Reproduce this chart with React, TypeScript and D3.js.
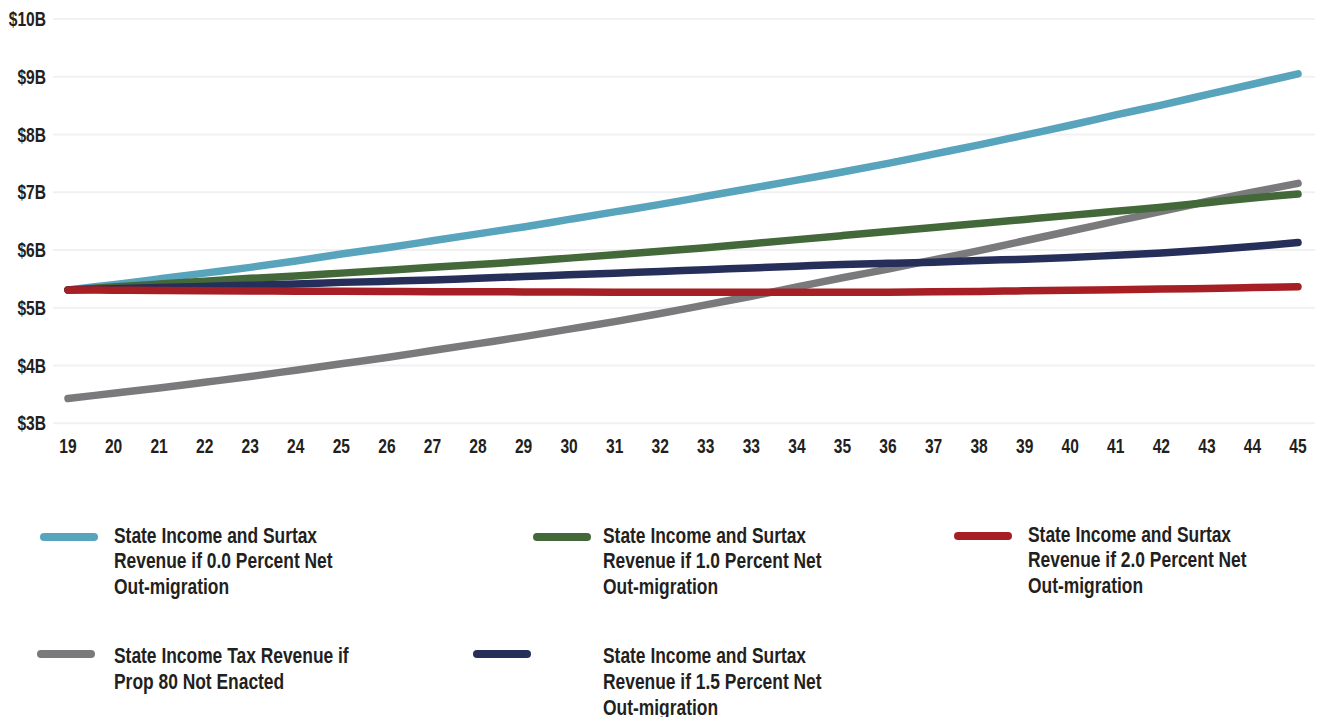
import React from "react";
import * as d3 from "d3";

const xLabels = ["19","20","21","22","23","24","25","26","27","28","29","30","31","32","33","33","34","35","36","37","38","39","40","41","42","43","44","45"];
const yTicks = [3, 4, 5, 6, 7, 8, 9, 10];

const blue0 = [5.31,5.40,5.50,5.60,5.70,5.81,5.93,6.04,6.16,6.28,6.40,6.53,6.66,6.79,6.93,7.07,7.21,7.35,7.50,7.66,7.82,7.99,8.16,8.34,8.51,8.69,8.87,9.05];
const green10 = [5.31,5.36,5.41,5.46,5.51,5.55,5.60,5.65,5.70,5.75,5.80,5.86,5.92,5.98,6.04,6.11,6.18,6.25,6.32,6.39,6.46,6.53,6.60,6.67,6.74,6.82,6.90,6.97];
const red20 = [5.31,5.305,5.300,5.296,5.292,5.288,5.285,5.282,5.279,5.277,5.275,5.273,5.271,5.270,5.269,5.268,5.268,5.268,5.270,5.276,5.284,5.293,5.303,5.313,5.324,5.336,5.350,5.365];
const gray80 = [3.43,3.52,3.61,3.71,3.81,3.92,4.03,4.14,4.26,4.38,4.50,4.63,4.76,4.90,5.05,5.20,5.36,5.52,5.67,5.83,5.99,6.16,6.33,6.50,6.67,6.84,7.00,7.155];
const navy15 = [5.31,5.33,5.35,5.37,5.39,5.41,5.44,5.46,5.48,5.51,5.54,5.57,5.60,5.63,5.66,5.69,5.72,5.75,5.77,5.79,5.82,5.84,5.87,5.91,5.95,6.00,6.06,6.13];

const seriesNames = [
  ["State Income and Surtax", "Revenue if 0.0 Percent Net", "Out-migration"],
  ["State Income and Surtax", "Revenue if 1.0 Percent Net", "Out-migration"],
  ["State Income and Surtax", "Revenue if 2.0 Percent Net", "Out-migration"],
  ["State Income Tax Revenue if", "Prop 80 Not Enacted"],
  ["State Income and Surtax", "Revenue if 1.5 Percent Net", "Out-migration"],
];
const seriesColors = ["#58a4bd", "#436839", "#a61f24", "#7a7a7c", "#262e5a"];
const seriesValues = [blue0, green10, red20, gray80, navy15];
// draw order (back to front)
const drawOrder = [3, 0, 1, 4, 2];

const FONT = "'Liberation Sans', Arial, sans-serif";
const INK = "#231f20";

function CText(props: { x: number; y: number; sx: number; size: number; anchor?: string; children: React.ReactNode }) {
  return (
    <text
      transform={`translate(${props.x},${props.y}) scale(${props.sx},1)`}
      fontSize={props.size}
      fontWeight={700}
      fill={INK}
      textAnchor={props.anchor || "start"}
    >
      {props.children}
    </text>
  );
}

export default function App() {
  const W = 1323, H = 717;
  const x = d3.scaleLinear().domain([0, xLabels.length - 1]).range([68, 1298]);
  const y = d3.scaleLinear().domain([3, 10]).range([423.3, 19]);
  const line = d3.line<number>().x((_, i) => x(i)).y(d => y(d)).curve(d3.curveCatmullRom.alpha(0.5));

  const legendPos = [
    { sx: 40, sy: 537, tx: 114, ty: 542.5 },
    { sx: 533, sy: 537, tx: 603, ty: 542.5 },
    { sx: 954, sy: 536, tx: 1028, ty: 541.5 },
    { sx: 37, sy: 654, tx: 114, ty: 663 },
    { sx: 473, sy: 654, tx: 603, ty: 663 },
  ];

  return (
    <svg width={W} height={H} style={{ position: "absolute", left: 0, top: 0, background: "#fff" }} fontFamily={FONT}>
      {yTicks.map(t => (
        <g key={t}>
          <line x1={53} x2={1315} y1={y(t)} y2={y(t)} stroke="#f1f1f1" strokeWidth={2} />
          <CText x={46} y={y(t) + 7} sx={0.8} size={19.5} anchor="end">${t}B</CText>
        </g>
      ))}
      {xLabels.map((l, i) => (
        <CText key={i} x={x(i)} y={452.5} sx={0.8} size={19.5} anchor="middle">{l}</CText>
      ))}
      {drawOrder.map(k => (
        <path key={k} d={line(seriesValues[k]) || ""} fill="none" stroke={seriesColors[k]} strokeWidth={7.5} strokeLinecap="round" strokeLinejoin="round" />
      ))}
      {legendPos.map((p, k) => (
        <g key={k}>
          <line x1={p.sx + 4} x2={p.sx + 54} y1={p.sy} y2={p.sy} stroke={seriesColors[k]} strokeWidth={8} strokeLinecap="round" />
          {seriesNames[k].map((t, j) => (
            <CText key={j} x={p.tx} y={p.ty + j * 25.8} sx={0.81} size={21.5}>{t}</CText>
          ))}
        </g>
      ))}
    </svg>
  );
}
